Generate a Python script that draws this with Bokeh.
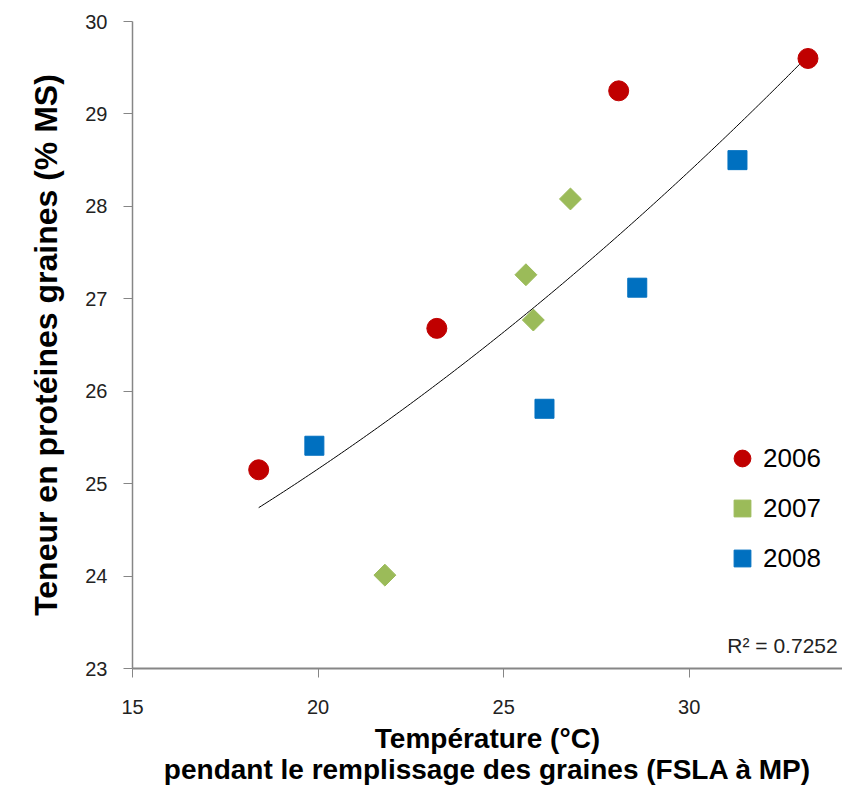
import numpy as np
from bokeh.plotting import figure
from bokeh.models import ColumnDataSource, Range1d, FixedTicker, Legend, LegendItem, Label
from bokeh.embed import file_html
from bokeh.resources import INLINE

# Data
years = ["2006", "2007", "2008"]
temp_2006 = [18.4, 23.2, 28.1, 33.2]
prot_2006 = [25.15, 26.68, 29.25, 29.6]
temp_2007 = [21.8, 25.6, 25.8, 26.8]
prot_2007 = [24.01, 27.26, 26.77, 28.08]
temp_2008 = [19.9, 26.1, 28.6, 31.3]
prot_2008 = [25.41, 25.81, 27.12, 28.5]
x_ticks = [15, 20, 25, 30]
y_ticks = [23, 24, 25, 26, 27, 28, 29, 30]
r2_text = "R\u00b2 = 0.7252"

AXIS_GREY = "#868686"
SANS = "Liberation Sans"

p = figure(width=842, height=790, output_backend="svg", toolbar_location=None,
           x_range=Range1d(15, 34.13), y_range=Range1d(23, 30),
           min_border_left=132, min_border_top=21, min_border_bottom=122,
           min_border_right=0)
p.outline_line_color = None
p.xgrid.visible = False
p.ygrid.visible = False

# Polynomial trend line fitted to all points
all_x = np.array(temp_2006 + temp_2007 + temp_2008)
all_y = np.array(prot_2006 + prot_2007 + prot_2008)
coef = np.polyfit(all_x, all_y, 2)
xs = np.linspace(all_x.min(), all_x.max(), 200)
p.line(xs, np.polyval(coef, xs), line_color="black", line_width=1)

src06 = ColumnDataSource(dict(x=temp_2006, y=prot_2006))
src07 = ColumnDataSource(dict(x=temp_2007, y=prot_2007))
src08 = ColumnDataSource(dict(x=temp_2008, y=prot_2008))
r06 = p.scatter("x", "y", source=src06, marker="circle", size=20,
                fill_color="#C00000", line_color="#C00000")
r07 = p.scatter("x", "y", source=src07, marker="square", size=15.5, angle=np.pi / 4,
                fill_color="#9BBB59", line_color="#9BBB59")
r08 = p.scatter("x", "y", source=src08, marker="square", size=19,
                fill_color="#0070C0", line_color="#0070C0")

legend = Legend(items=[LegendItem(label=years[0], renderers=[r06]),
                       LegendItem(label=years[1], renderers=[r07]),
                       LegendItem(label=years[2], renderers=[r08])],
                location=(589, 89), orientation="vertical",
                glyph_width=42, glyph_height=42, spacing=8, padding=0, margin=0,
                label_standoff=-6, label_text_font=SANS,
                label_text_font_size="26px", label_text_color="black",
                background_fill_alpha=0, border_line_color=None)
p.add_layout(legend)

p.add_layout(Label(x=34.0, y=23.245, text=r2_text, text_align="right",
                   text_baseline="middle", text_font=SANS,
                   text_font_size="21px", text_color="#222222"))

for ax in (p.xaxis[0], p.yaxis[0]):
    ax.axis_line_color = AXIS_GREY
    ax.major_tick_line_color = AXIS_GREY
    ax.major_tick_out = 9
    ax.major_tick_in = 0
    ax.minor_tick_line_color = None
    ax.major_label_text_font = SANS
    ax.major_label_text_font_size = "20px"
    ax.major_label_text_color = "#222222"
    ax.axis_label_text_font = SANS
    ax.axis_label_text_font_style = "bold"
    ax.axis_label_text_color = "black"

p.xaxis[0].axis_line_width = 2
p.yaxis[0].axis_line_width = 1.5
p.xaxis[0].ticker = FixedTicker(ticks=x_ticks)
p.yaxis[0].ticker = FixedTicker(ticks=y_ticks)
p.xaxis[0].major_label_standoff = 22
p.yaxis[0].major_label_standoff = 16
p.xaxis[0].axis_label = "Température (°C)\npendant le remplissage des graines (FSLA à MP)"
p.xaxis[0].axis_label_text_font_size = "28px"
p.xaxis[0].axis_label_text_line_height = 1.0
p.xaxis[0].axis_label_standoff = 6
p.yaxis[0].axis_label = "Teneur en protéines graines (% MS)"
p.yaxis[0].axis_label_text_font_size = "32px"
p.yaxis[0].axis_label_standoff = 18

open("out.html", "w").write(file_html(p, INLINE))
